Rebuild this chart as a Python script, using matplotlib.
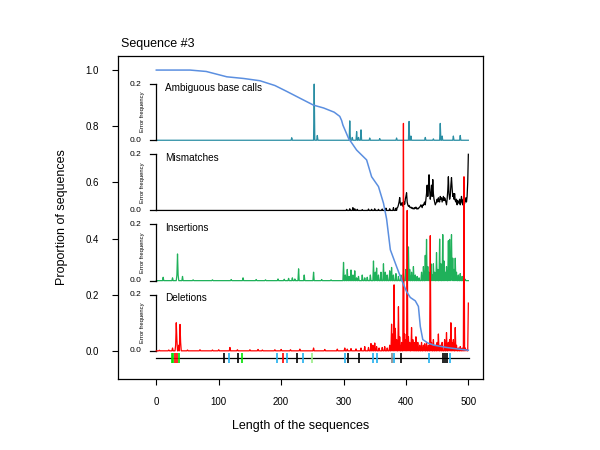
import numpy as np
import matplotlib
matplotlib.use("Agg")
import matplotlib.pyplot as plt

plt.rcParams['font.family'] = ['Liberation Sans', 'DejaVu Sans']

# Proportion of sequences at least this long (length, proportion)
surv_len = [0, 54, 80, 113, 140, 166, 190, 209, 230, 252, 268, 285, 294, 297, 299, 308,
            321, 337, 345, 356, 364, 369, 375, 385, 393, 401, 407, 415, 420, 423, 427,
            435, 445, 465, 485, 500]
surv_prop = [1.0, 1.0, 0.995, 0.976, 0.97, 0.962, 0.945, 0.924, 0.9, 0.875, 0.865, 0.85,
             0.835, 0.82, 0.804, 0.757, 0.715, 0.68, 0.62, 0.585, 0.526, 0.47, 0.36, 0.30,
             0.253, 0.211, 0.19, 0.178, 0.158, 0.087, 0.04, 0.028, 0.02, 0.012, 0.006, 0.002]

seq_len = 500

# error frequencies per position (position: frequency), zero elsewhere
ambiguous = {217: 0.009, 253: 0.2, 258: 0.017, 310: 0.069, 314: 0.01, 321: 0.031, 324: 0.01,
             328: 0.037, 342: 0.008, 358: 0.006, 385: 0.008, 405: 0.067, 408: 0.015,
             431: 0.01, 444: 0.005, 455: 0.06, 458: 0.015, 476: 0.015, 487: 0.017}

mismatch_sparse = {305: 0.004, 310: 0.006, 315: 0.01, 318: 0.006, 322: 0.004, 330: 0.003,
                   340: 0.005, 345: 0.004, 350: 0.006, 356: 0.004, 362: 0.005, 368: 0.008,
                   374: 0.006, 380: 0.01, 384: 0.008}
mismatch_start = 386
mismatch_dense = [0.01, 0.012, 0.02, 0.03, 0.046, 0.025, 0.018, 0.022, 0.028, 0.015,
                  0.02, 0.03, 0.022, 0.04, 0.05, 0.063, 0.03, 0.02, 0.015, 0.018,
                  0.012, 0.01, 0.012, 0.008, 0.01, 0.006, 0.008, 0.005, 0.01, 0.008,
                  0.012, 0.006, 0.005, 0.008, 0.006, 0.01, 0.012, 0.015, 0.02, 0.015,
                  0.01, 0.02, 0.018, 0.025, 0.03, 0.02, 0.04, 0.06, 0.09, 0.05,
                  0.08, 0.127, 0.07, 0.04, 0.06, 0.09, 0.05, 0.11, 0.06, 0.04,
                  0.03, 0.02, 0.025, 0.03, 0.04, 0.03, 0.045, 0.035, 0.03, 0.05,
                  0.04, 0.045, 0.03, 0.04, 0.05, 0.035, 0.045, 0.04, 0.03, 0.02,
                  0.04, 0.07, 0.12, 0.06, 0.04, 0.05, 0.09, 0.117, 0.08, 0.05,
                  0.06, 0.04, 0.06, 0.035, 0.03, 0.04, 0.02, 0.035, 0.03, 0.025,
                  0.04, 0.02, 0.03, 0.05, 0.03, 0.02, 0.04, 0.03, 0.025, 0.035,
                  0.045, 0.03, 0.05, 0.1, 0.2]

insertion = {11: 0.012, 26: 0.01, 33: 0.02, 34: 0.095, 35: 0.02, 42: 0.015, 59: 0.003,
             90: 0.003, 120: 0.004, 139: 0.01, 160: 0.004, 175: 0.003, 195: 0.006,
             205: 0.005, 212: 0.008, 218: 0.01, 222: 0.006, 228: 0.042, 237: 0.02,
             252: 0.03, 265: 0.004, 280: 0.003, 300: 0.065, 303: 0.02, 306: 0.04,
             309: 0.015, 312: 0.038, 315: 0.02, 318: 0.035, 321: 0.01, 324: 0.015,
             330: 0.02, 334: 0.01, 338: 0.012, 343: 0.02, 348: 0.07, 351: 0.03, 353: 0.045,
             356: 0.02, 360: 0.03, 364: 0.06, 367: 0.03, 370: 0.02, 374: 0.035, 377: 0.047,
             380: 0.02, 384: 0.025, 388: 0.015, 392: 0.02, 396: 0.025, 400: 0.04, 404: 0.12,
             406: 0.04, 409: 0.03, 412: 0.05, 415: 0.02, 418: 0.015, 421: 0.01, 425: 0.03,
             428: 0.05, 431: 0.09, 433: 0.147, 435: 0.05, 437: 0.03, 440: 0.06, 442: 0.02,
             444: 0.06, 446: 0.03, 449: 0.1, 451: 0.04, 454: 0.148, 456: 0.06, 459: 0.164,
             461: 0.07, 463: 0.03, 465: 0.05, 468: 0.142, 470: 0.147, 472: 0.06, 473: 0.164,
             475: 0.08, 477: 0.04, 479: 0.08, 481: 0.03, 484: 0.02, 487: 0.025, 490: 0.015,
             495: 0.005}

deletion = {5: 0.002, 20: 0.003, 26: 0.01, 31: 0.02, 32: 0.1, 33: 0.04, 36: 0.02, 38: 0.094,
            39: 0.03, 50: 0.003, 70: 0.004, 90: 0.003, 100: 0.004, 118: 0.012, 130: 0.004,
            150: 0.004, 163: 0.005, 170: 0.003, 190: 0.004, 200: 0.005, 215: 0.004,
            230: 0.006, 252: 0.01, 270: 0.005, 290: 0.006, 302: 0.01, 306: 0.006, 312: 0.008,
            320: 0.007, 328: 0.01, 334: 0.015, 340: 0.012, 344: 0.026, 347: 0.02, 350: 0.028,
            353: 0.015, 357: 0.01, 362: 0.012, 366: 0.015, 370: 0.01, 374: 0.02, 377: 0.095,
            379: 0.06, 381: 0.235, 383: 0.08, 385: 0.04, 388: 0.157, 390: 0.05, 393: 0.03,
            396: 0.81, 398: 0.06, 400: 0.04, 402: 0.5, 404: 0.05, 406: 0.03, 409: 0.083,
            411: 0.04, 413: 0.03, 416: 0.05, 419: 0.03, 422: 0.02, 425: 0.03, 428: 0.02,
            430: 0.025, 433: 0.03, 436: 0.02, 439: 0.41, 441: 0.03, 444: 0.04, 447: 0.02,
            450: 0.03, 452: 0.06, 455: 0.02, 458: 0.03, 462: 0.04, 465: 0.065, 468: 0.03,
            470: 0.04, 472: 0.1, 474: 0.03, 476: 0.04, 479: 0.083, 481: 0.02, 484: 0.01,
            487: 0.015, 490: 0.01, 493: 0.62, 495: 0.01, 497: 0.005, 500: 0.17}

panel_titles = ['Ambiguous base calls', 'Mismatches', 'Insertions', 'Deletions']
panel_offsets = [0.75, 0.5, 0.25, 0.0]
panel_colors = ['#2a8ea4', 'black', '#1fb15a', '#ff0000']

# features along the sequence (bottom strip)
feature_pos = [25, 27, 30, 33, 37, 108, 117, 131, 138, 193, 203, 210, 225, 235, 250,
               302, 307, 325, 347, 353, 377, 381, 392, 437, 460, 463, 465, 471]
feature_col = ['g', 'g', 'r', 'r', 'g', 'k', 'b', 'k', 'g', 'b', 'r', 'b', 'k', 'b', 'lg',
               'b', 'k', 'k', 'b', 'b', 'grey', 'b', 'k', 'b', 'k', 'k', 'k', 'b']
col_map = {'g': '#00e000', 'r': '#ff0000', 'k': 'black', 'b': '#22b0ee',
           'lg': '#99ee88', 'grey': '#888888'}


def to_array(d, start=None, dense=None):
    arr = np.zeros(seq_len + 1)
    for k, v in d.items():
        arr[k] = v
    if dense is not None:
        arr[start:start + len(dense)] = dense
    return arr


positions = np.arange(seq_len + 1)
series = [to_array(ambiguous),
          to_array(mismatch_sparse, mismatch_start, mismatch_dense),
          to_array(insertion),
          to_array(deletion)]

fig = plt.figure(figsize=(6, 4.5), dpi=100)
ax = fig.add_axes([0.196, 0.158, 0.6085, 0.7175])

for title, off, col, vals in zip(panel_titles, panel_offsets, panel_colors, series):
    ax.plot(positions, off + vals, color=col, lw=0.9, zorder=3 if col == '#ff0000' else 2)
    # small error-frequency axis for each panel
    ax.plot([0, 0], [off, off + 0.2], color='black', lw=0.9)
    for t in (0.0, 0.2):
        ax.plot([-10, 0], [off + t, off + t], color='black', lw=0.9)
        ax.text(-24, off + t, '%.1f' % t, ha='right', va='center', fontsize=6)
    ax.text(-22, off + 0.1, 'Error frequency', rotation=90, ha='center', va='center',
            fontsize=4.2)
    ax.text(14, off + 0.187, title, ha='left', va='center', fontsize=7.2)

# feature strip
ax.plot([0, seq_len + 1], [-0.026, -0.026], color='black', lw=0.9)
ax.vlines(feature_pos, -0.044, -0.008, colors=[col_map[c] for c in feature_col], lw=1.2,
          zorder=3)

ax.plot(surv_len, surv_prop, color='#5b8fe0', lw=1.1, zorder=4)

ax.set_xlim(-62, 523)
ax.set_ylim(-0.1, 1.05)
ax.set_xticks([0, 100, 200, 300, 400, 500])
ax.set_yticks([0.0, 0.2, 0.4, 0.6, 0.8, 1.0])
ax.set_yticklabels(['0.0', '0.2', '0.4', '0.6', '0.8', '1.0'])
ax.tick_params(axis='both', labelsize=7, length=4.3, width=0.8, pad=9)
for s in ax.spines.values():
    s.set_linewidth(0.9)

ax.set_xlabel('Length of the sequences', fontsize=9, labelpad=9)
ax.set_ylabel('Proportion of sequences', fontsize=9, labelpad=13)
fig.text(0.202, 0.888, 'Sequence #3', ha='left', va='bottom', fontsize=9)

fig.savefig('out.png', dpi=100)
